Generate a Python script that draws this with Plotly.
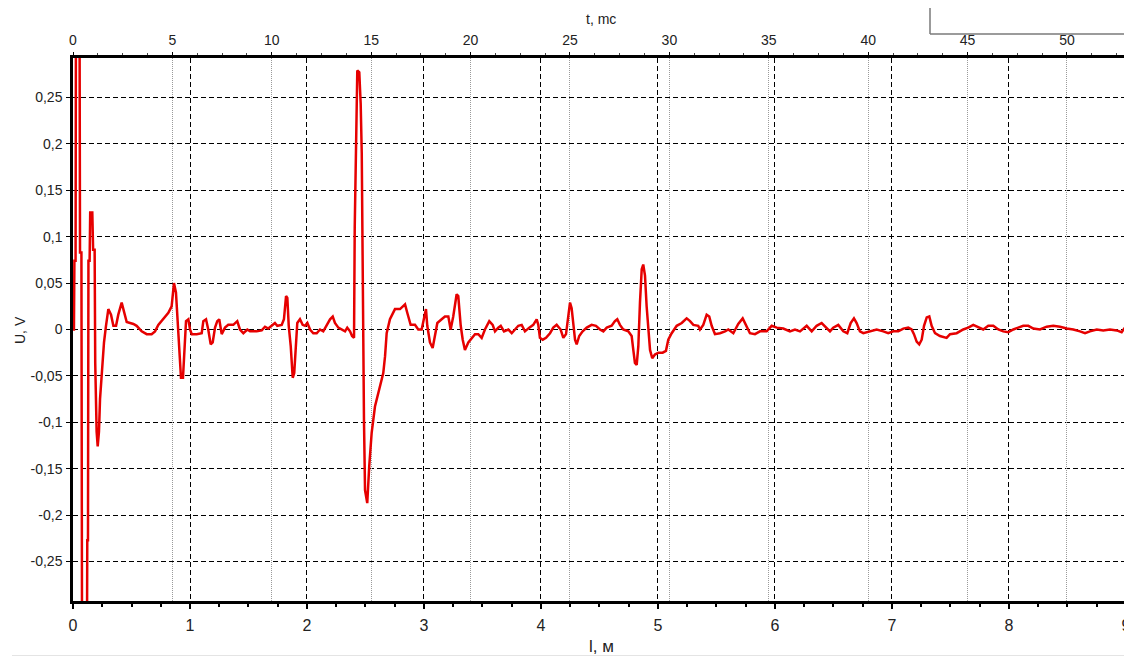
import plotly.graph_objects as go

# distance along cable, m
l_m = [0, 0.008, 0.012, 0.022, 0.026, 0.055, 0.06, 0.072, 0.078, 0.118, 0.122, 0.128, 0.132, 0.142, 0.147, 0.165,
       0.172, 0.185, 0.19, 0.202, 0.211, 0.222, 0.231, 0.245, 0.265, 0.282, 0.302, 0.325, 0.345, 0.368, 0.387, 0.416,
       0.436, 0.459, 0.516, 0.544, 0.587, 0.630, 0.672, 0.701, 0.729, 0.772, 0.815, 0.843, 0.863, 0.880, 0.895, 0.909,
       0.923, 0.94, 0.949, 0.966, 0.986,
       1.000, 1.015, 1.057, 1.1, 1.114, 1.137, 1.156, 1.177, 1.194, 1.214, 1.233, 1.25, 1.271, 1.299, 1.327, 1.370,
       1.404, 1.427, 1.456, 1.49, 1.513, 1.570, 1.613, 1.641, 1.669, 1.698, 1.726, 1.746, 1.784, 1.803, 1.821, 1.832,
       1.844, 1.861, 1.878, 1.891, 1.906, 1.917, 1.940, 1.963, 1.983, 2.003, 2.026, 2.054, 2.083, 2.111, 2.139, 2.168,
       2.197, 2.22, 2.239, 2.268, 2.297, 2.325, 2.344, 2.368, 2.385, 2.402,
       2.408, 2.419, 2.430, 2.447, 2.459, 2.468, 2.476, 2.487, 2.496, 2.515, 2.532, 2.553, 2.581, 2.624, 2.652, 2.667,
       2.681, 2.709, 2.752, 2.795, 2.838, 2.857, 2.886, 2.923, 2.951, 2.980, 3.0, 3.017, 3.028, 3.051, 3.074, 3.094,
       3.114, 3.151, 3.179, 3.208, 3.228, 3.250, 3.279, 3.293, 3.314, 3.331, 3.350, 3.379, 3.408, 3.436, 3.464, 3.493,
       3.521, 3.558, 3.587, 3.607, 3.635, 3.656, 3.684, 3.721, 3.750, 3.778, 3.806, 3.835, 3.863, 3.900, 3.934, 3.963,
       3.977, 3.991, 4.015, 4.043, 4.077, 4.105, 4.134, 4.168, 4.191, 4.214, 4.233, 4.248, 4.262, 4.276, 4.291, 4.305,
       4.327, 4.356, 4.391, 4.433, 4.470, 4.504, 4.533, 4.562, 4.604, 4.632, 4.652, 4.675, 4.703, 4.746, 4.775, 4.789,
       4.803, 4.818, 4.832, 4.846, 4.861, 4.874, 4.889, 4.903, 4.917, 4.932, 4.951, 4.974, 5.003, 5.040, 5.068, 5.088,
       5.117, 5.160, 5.203, 5.245, 5.274, 5.302, 5.344, 5.359, 5.387, 5.416, 5.438, 5.459, 5.487, 5.530, 5.573, 5.601,
       5.644, 5.686, 5.724, 5.752, 5.786, 5.829, 5.872, 5.929, 5.972, 6.015, 6.071, 6.128, 6.171, 6.214, 6.271, 6.314,
       6.356, 6.399, 6.442, 6.470, 6.498, 6.541, 6.584, 6.618, 6.647, 6.675, 6.698, 6.726, 6.755, 6.812, 6.869, 6.926,
       6.968, 7.011, 7.054, 7.097, 7.139, 7.168, 7.188, 7.211, 7.233, 7.254, 7.274, 7.297, 7.319, 7.339, 7.368, 7.410,
       7.467, 7.496, 7.553, 7.609, 7.652, 7.695, 7.738, 7.780, 7.823, 7.866, 7.909, 7.951, 7.994, 8.037, 8.079, 8.122,
       8.165, 8.208, 8.265, 8.322, 8.379, 8.436, 8.494, 8.550, 8.607, 8.650, 8.692, 8.750, 8.806, 8.863, 8.921, 8.963,
       8.991, 9.020, 9.051]

# reflected voltage, V
u_v = [0, 0.0, 0.074, 0.074, 0.40, 0.40, 0.083, 0.083, -0.40, -0.40, -0.227, -0.227, 0.074, 0.074, 0.126, 0.126,
       0.086, 0.086, -0.036, -0.11, -0.126, -0.11, -0.075, -0.047, -0.014, 0.004, 0.022, 0.016, 0.004, 0.004, 0.016, 0.029,
       0.018, 0.008, 0.006, 0.004, -0.002, -0.005, -0.005, -0.002, 0.005, 0.011, 0.018, 0.025, 0.05, 0.04, 0.007, -0.032,
       -0.052, -0.052, -0.029, 0.009, 0.011,
       0, -0.005, -0.005, -0.004, 0.009, 0.011, 0, -0.016, -0.014, 0.002, 0.009, 0.011, -0.005, 0.002, 0.005, 0.005,
       0.009, 0, -0.004, 0, -0.002, -0.002, -0.001, 0.003, 0.001, 0.004, 0.007, 0.004, 0.005, 0.011, 0.036, 0.034,
       0.004, -0.018, -0.052, -0.047, -0.014, 0.007, 0.011, 0.005, 0.004, 0.007, 0, -0.004, -0.004, 0, -0.002, 0.004,
       0.011, 0.014, 0.007, 0.002, 0, -0.002, 0.002, -0.002, -0.007, -0.009,
       0.11, 0.221, 0.279, 0.277, 0.243, 0.19, 0.04, -0.097, -0.173, -0.187, -0.147, -0.111, -0.083, -0.061, -0.047, -0.029,
       -0.004, 0.011, 0.022, 0.022, 0.027, 0.018, 0.005, 0.005, 0, 0, 0.013, 0.022, 0.004, -0.014, -0.02, -0.007,
       0.007, 0.011, 0.014, 0.014, 0, 0.014, 0.038, 0.036, 0.004, -0.011, -0.022, -0.014, -0.009, -0.005, -0.005, -0.009,
       0, 0.009, 0.005, -0.002, 0.002, 0.004, -0.002, 0, -0.004, 0, 0.004, 0.005, -0.002, 0.002, 0.005, 0.011,
       0.005, -0.009, -0.011, -0.009, -0.004, 0.002, 0.005, 0, -0.009, -0.005, 0.014, 0.029, 0.023, 0.007, -0.011, -0.016,
       -0.007, -0.002, 0.002, 0.005, 0.004, 0, -0.002, 0.002, 0.004, 0.009, 0.011, 0.005, 0, -0.002, -0.007, -0.022,
       -0.036, -0.038, -0.018, 0.029, 0.065, 0.07, 0.058, 0.025, -0.004, -0.022, -0.031, -0.027, -0.025, -0.025, -0.023, -0.011,
       -0.004, 0.004, 0.007, 0.012, 0.009, 0.005, 0.004, 0, 0.005, 0.016, 0.014, 0.004, -0.005, -0.004, -0.002, 0,
       -0.004, 0.006, 0.012, 0.004, -0.004, -0.005, -0.002, -0.002, 0.004, 0.002, 0.001, -0.002, 0, -0.002, 0.004, -0.002,
       0.004, 0.007, 0.002, -0.002, 0.002, 0.005, -0.002, -0.004, 0.007, 0.012, 0.007, -0.002, -0.004, -0.002, 0, -0.002,
       -0.004, -0.002, -0.002, 0.001, 0.002, 0, -0.005, -0.013, -0.016, -0.011, 0.004, 0.013, 0.014, 0.004, -0.004, -0.007,
       -0.009, -0.005, -0.004, 0, 0.002, 0.005, 0.002, 0, 0.004, 0.004, 0, -0.002, -0.003, 0, 0.002, 0.004,
       0.004, 0.001, 0, 0.003, 0.004, 0.003, 0.001, 0, -0.002, -0.004, -0.002, 0, -0.001, 0, -0.001, -0.003,
       0.002, -0.002, -0.004]

y_tickvals = [0.25, 0.2, 0.15, 0.1, 0.05, 0, -0.05, -0.1, -0.15, -0.2, -0.25]
y_ticktext = ["0,25", "0,2", "0,15", "0,1", "0,05", "0", "-0,05", "-0,1", "-0,15", "-0,2", "-0,25"]
l_ticks = [0, 1, 2, 3, 4, 5, 6, 7, 8, 9]
t_ticks = [0, 5, 10, 15, 20, 25, 30, 35, 40, 45, 50]

# page has an 8px body margin: the figure is drawn offset by OFF pixels
OFF = 8
W, H = 1132 - OFF, 657 - OFF
# plot area in screen pixels: x 73..1131, y 58..601
ml, mr = 73 - OFF, 1
mt = 58 - OFF
mb = H - (601 - OFF)
pw = W - ml - mr
ph = H - mt - mb
L_MAX = 9.043
T_MAX = 53.22
Y_R = 0.2925

font = dict(family="Arial, Liberation Sans, sans-serif", size=12, color="#222222")

fig = go.Figure()
fig.add_trace(go.Scatter(x=l_m, y=u_v, mode="lines", line=dict(color="#e60000", width=2.5),
                         xaxis="x", yaxis="y", showlegend=False, hoverinfo="skip"))
# empty trace to activate the top time axis
fig.add_trace(go.Scatter(x=[None], y=[None], xaxis="x2", yaxis="y", showlegend=False, hoverinfo="skip"))

fig.update_layout(
    width=W, height=H,
    margin=dict(l=ml, r=mr, t=mt, b=mb, autoexpand=False),
    paper_bgcolor="white", plot_bgcolor="white",
    font=font,
    xaxis=dict(range=[0, L_MAX], tickvals=l_ticks, ticks="outside", ticklen=5, tickwidth=1.5, tickcolor="black",
               showline=True, linecolor="black", linewidth=2.5, mirror=False, automargin=False,
               showgrid=True, gridcolor="black", gridwidth=1.2, griddash="5px,3px", zeroline=False,
               minor=dict(dtick=0.25, ticks="outside", ticklen=3, tickcolor="black", showgrid=False),
               tickfont=dict(size=16), ticklabelstandoff=3, ticklabeloverflow="allow"),
    xaxis2=dict(range=[0, T_MAX], tickvals=t_ticks, overlaying="x", side="top", anchor="y", automargin=False,
                ticks="outside", ticklen=3, tickcolor="black", showline=True, linecolor="black", linewidth=2.5,
                showgrid=True, gridcolor="#9a9a9a", gridwidth=1, griddash="1px,1px", zeroline=False,
                minor=dict(dtick=1.25, ticks="outside", ticklen=2, tickcolor="#444", showgrid=False),
                tickfont=dict(size=14), ticklabelstandoff=2, ticklabeloverflow="allow"),
    yaxis=dict(range=[-Y_R, Y_R], tickvals=y_tickvals, ticktext=y_ticktext, ticks="outside", ticklen=4,
               tickcolor="black", showline=True, linecolor="black", linewidth=2.5, automargin=False,
               showgrid=True, gridcolor="black", gridwidth=1.2, griddash="5px,3px", zeroline=False,
               tickfont=dict(size=14), ticklabelstandoff=1),
)

def px_to_paper_x(px):
    return (px - OFF - ml) / pw

def px_to_paper_y(py):
    return (H - mb - (py - OFF)) / ph

annotations = [
    dict(text="t, mc", x=px_to_paper_x(601), y=px_to_paper_y(19), xref="paper", yref="paper",
         xanchor="center", yanchor="middle", showarrow=False, font=dict(size=14, color="#222222")),
    dict(text="l, м", x=px_to_paper_x(601), y=px_to_paper_y(646), xref="paper", yref="paper",
         xanchor="center", yanchor="middle", showarrow=False, font=dict(size=17, color="#222222")),
    dict(text="U, V", x=px_to_paper_x(20), y=px_to_paper_y(330), xref="paper", yref="paper",
         xanchor="center", yanchor="middle", showarrow=False, textangle=-90,
         font=dict(size=14, color="#222222")),
]
fig.update_layout(annotations=annotations)

shapes = [
    dict(type="line", xref="paper", yref="paper", x0=px_to_paper_x(930), x1=px_to_paper_x(1140),
         y0=px_to_paper_y(34), y1=px_to_paper_y(34), line=dict(color="#7a7a7a", width=1.5)),
    dict(type="line", xref="paper", yref="paper", x0=px_to_paper_x(930), x1=px_to_paper_x(930),
         y0=px_to_paper_y(0), y1=px_to_paper_y(34), line=dict(color="#7a7a7a", width=1.5)),
    dict(type="line", xref="paper", yref="paper", x0=px_to_paper_x(12), x1=px_to_paper_x(1140),
         y0=px_to_paper_y(655.5), y1=px_to_paper_y(655.5), line=dict(color="#e4e4e4", width=1)),
]
fig.update_layout(shapes=shapes)

fig.write_html("out.html")
